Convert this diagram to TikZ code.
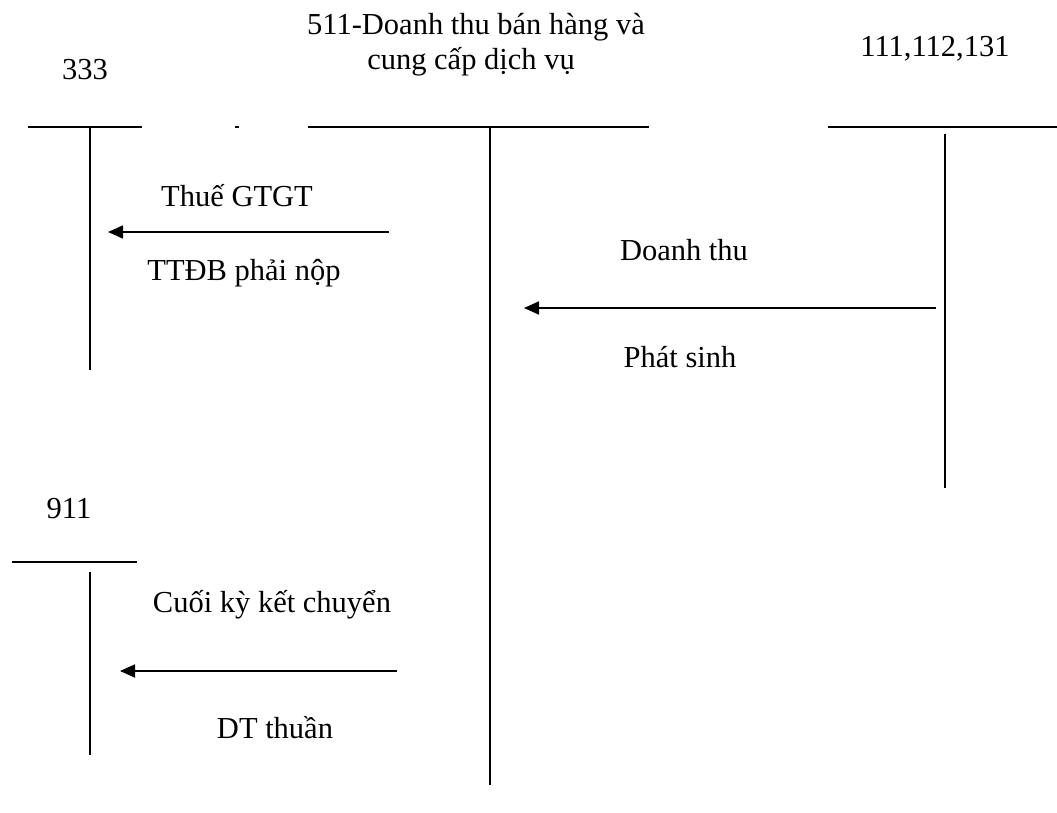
\documentclass[tikz,border=0pt]{standalone}
\usepackage{fontspec}
\setmainfont{Liberation Serif}
\usetikzlibrary{arrows.meta}
\begin{document}
\begin{tikzpicture}[x=1pt,y=-1pt,
  lbl/.style={anchor=base,inner sep=0pt,font=\fontsize{30.5}{36}\selectfont},
  tline/.style={line width=1.8pt},
  flow/.style={line width=1.8pt,-{Triangle[length=15pt,width=13pt]}}]
\useasboundingbox (0,0) rectangle (1057,813);
% titles
\node[lbl] (t333) at (85,80) {333};
\node[lbl] (t511a) at (476,35) {511-Doanh thu bán hàng và};
\node[lbl] (t511b) at (471,70) {cung cấp dịch vụ};
\node[lbl] (t111) at (935,57) {111,112,131};
\node[lbl] (t911) at (69,518) {911};
% T-accounts
\coordinate (a1) at (28,127); \coordinate (a2) at (142,127);
\coordinate (d1) at (235,127); \coordinate (d2) at (239,127);
\coordinate (b1) at (308,127); \coordinate (b2) at (649,127);
\coordinate (c1) at (828,127); \coordinate (c2) at (1057,127);
\draw[tline] (a1) -- (a2);
\draw[tline] (d1) -- (d2);
\draw[tline] (b1) -- (b2);
\draw[tline] (c1) -- (c2);
\coordinate (v333a) at (90,127); \coordinate (v333b) at (90,370);
\coordinate (v511a) at (490,127); \coordinate (v511b) at (490,785);
\coordinate (v111a) at (945,134); \coordinate (v111b) at (945,488);
\draw[tline] (v333a) -- (v333b);
\draw[tline] (v511a) -- (v511b);
\draw[tline] (v111a) -- (v111b);
\coordinate (e1) at (12,562); \coordinate (e2) at (137,562);
\coordinate (v911a) at (90,572); \coordinate (v911b) at (90,755);
\draw[tline] (e1) -- (e2);
\draw[tline] (v911a) -- (v911b);
% flows
\coordinate (f1s) at (389,232); \coordinate (f1e) at (108,232);
\draw[flow] (f1s) -- (f1e);
\node[lbl] (l1a) at (237,207) {Thuế GTGT};
\node[lbl] (l1b) at (244,280) {TTĐB phải nộp};
\coordinate (f2s) at (936,308); \coordinate (f2e) at (524,308);
\draw[flow] (f2s) -- (f2e);
\node[lbl] (l2a) at (684,260) {Doanh thu};
\node[lbl] (l2b) at (680,367) {Phát sinh};
\coordinate (f3s) at (397,671); \coordinate (f3e) at (120,671);
\draw[flow] (f3s) -- (f3e);
\node[lbl] (l3a) at (272,612) {Cuối kỳ kết chuyển};
\node[lbl] (l3b) at (275,738) {DT thuần};
\end{tikzpicture}
\end{document}
